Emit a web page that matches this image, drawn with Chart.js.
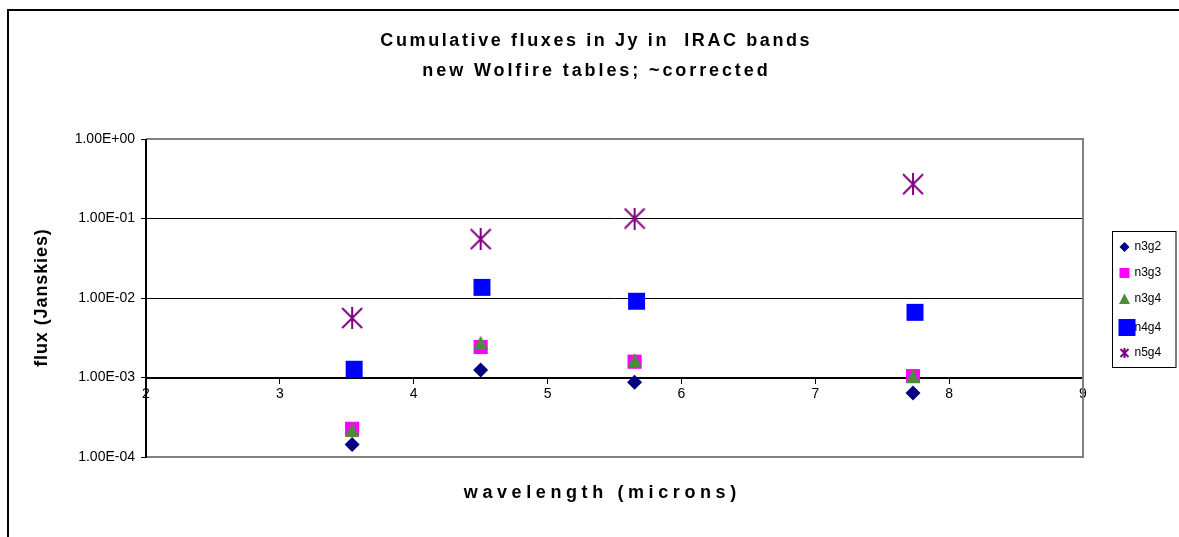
<!DOCTYPE html>
<html>
<head>
<meta charset="utf-8">
<title>Cumulative fluxes in Jy in IRAC bands</title>
<script src="https://cdn.jsdelivr.net/npm/chart.js@4.4.1/dist/chart.umd.min.js"></script>
<style>
  html, body { margin: 0; padding: 0; background: #ffffff; }
  canvas { display: block; }
</style>
</head>
<body>
<canvas id="chart" width="1179" height="537"></canvas>
<script>
// Band centres (microns) and cumulative fluxes (Jy) per model
const wavelengths = [3.54, 4.50, 5.65, 7.73];
const wavelengthsN4g4 = [3.555, 4.51, 5.665, 7.745];
const seriesNames = ['n3g2', 'n3g3', 'n3g4', 'n4g4', 'n5g4'];
const n3g2 = [1.44e-4, 1.24e-3, 8.7e-4, 6.4e-4];
const n3g3 = [2.26e-4, 2.42e-3, 1.58e-3, 1.04e-3];
const n3g4 = [2.2e-4, 2.75e-3, 1.66e-3, 1.05e-3];
const n4g4 = [1.27e-3, 1.36e-2, 9.1e-3, 6.6e-3];
const n5g4 = [5.6e-3, 5.5e-2, 1.0e-1, 2.7e-1];

const xTickValues = [2, 3, 4, 5, 6, 7, 8, 9];
const yTickValues = [1e-4, 1e-3, 1e-2, 1e-1, 1];
const yTickLabels = ['1.00E-04', '1.00E-03', '1.00E-02', '1.00E-01', '1.00E+00'];

const titleLines = ['Cumulative fluxes in Jy in  IRAC bands', 'new Wolfire tables; ~corrected'];
const xTitle = 'wavelength (microns)';
const yTitle = 'flux (Janskies)';

const FONT = '"Liberation Sans", Arial, Helvetica, sans-serif';

// Custom marker shapes
function makeStar(size, color, lw) {
  const c = document.createElement('canvas');
  c.width = size; c.height = size;
  const g = c.getContext('2d');
  g.strokeStyle = color; g.lineWidth = lw;
  g.beginPath();
  g.moveTo(1, 1); g.lineTo(size - 1, size - 1);
  g.moveTo(size - 1, 1); g.lineTo(1, size - 1);
  g.moveTo(size / 2, 0); g.lineTo(size / 2, size);
  g.stroke();
  return c;
}
function makeTriangle(w, h, color) {
  const c = document.createElement('canvas');
  c.width = w; c.height = h;
  const g = c.getContext('2d');
  g.fillStyle = color;
  g.beginPath();
  g.moveTo(w / 2, 0); g.lineTo(w, h); g.lineTo(0, h); g.closePath();
  g.fill();
  return c;
}

const colors = {
  n3g2: '#000080',
  n3g3: '#ff00ff',
  n3g4: '#4e8a3e',
  n4g4: '#0000ff',
  n5g4: '#800080'
};

const starBig = makeStar(22, colors.n5g4, 2);
const triBig = makeTriangle(14, 14, colors.n3g4);

function pts(xs, ys) { return xs.map((x, i) => ({ x: x, y: ys[i] })); }

const datasets = [
  { label: 'n3g2', data: pts(wavelengths, n3g2), pointStyle: 'rectRot', pointRadius: 7.5,
    backgroundColor: colors.n3g2, borderColor: colors.n3g2, borderWidth: 0, order: 4 },
  { label: 'n3g3', data: pts(wavelengths, n3g3), pointStyle: 'rect', pointRadius: 10,
    backgroundColor: colors.n3g3, borderColor: colors.n3g3, borderWidth: 0, order: 3 },
  { label: 'n3g4', data: pts(wavelengths, n3g4), pointStyle: triBig, pointRadius: 7,
    backgroundColor: colors.n3g4, borderColor: colors.n3g4, borderWidth: 0, order: 2 },
  { label: 'n4g4', data: pts(wavelengthsN4g4, n4g4), pointStyle: 'rect', pointRadius: 12,
    backgroundColor: colors.n4g4, borderColor: colors.n4g4, borderWidth: 0, order: 1 },
  { label: 'n5g4', data: pts(wavelengths, n5g4), pointStyle: starBig, pointRadius: 11,
    backgroundColor: colors.n5g4, borderColor: colors.n5g4, borderWidth: 0, order: 0 }
];

function spacedText(ctx, text, x, y, spacing) {
  ctx.letterSpacing = spacing + 'px';
  // letter spacing adds trailing space after the last glyph; compensate when centring
  const shift = ctx.textAlign === 'center' ? spacing / 2 : 0;
  ctx.fillText(text, x + shift, y);
  ctx.letterSpacing = '0px';
}

const decorations = {
  id: 'decorations',
  beforeDraw(chart) {
    const ctx = chart.ctx;
    ctx.save();
    ctx.fillStyle = '#ffffff';
    ctx.fillRect(0, 0, chart.width, chart.height);
    // outer frame
    ctx.strokeStyle = '#000000';
    ctx.lineWidth = 2;
    ctx.strokeRect(8, 10, chart.width + 20, chart.height + 20);
    ctx.restore();
  },
  afterDatasetsDraw(chart) {
    const ctx = chart.ctx;
    const a = chart.chartArea;
    ctx.save();
    // plot area border (top, right, bottom)
    ctx.strokeStyle = '#808080';
    ctx.lineWidth = 2;
    ctx.beginPath();
    ctx.moveTo(a.left, a.top);
    ctx.lineTo(a.right, a.top);
    ctx.lineTo(a.right, a.bottom);
    ctx.lineTo(a.left, a.bottom);
    ctx.stroke();
    // y axis line
    ctx.strokeStyle = '#000000';
    ctx.lineWidth = 2;
    ctx.beginPath();
    ctx.moveTo(a.left, a.top);
    ctx.lineTo(a.left, a.bottom + 1);
    ctx.stroke();

    // titles
    ctx.fillStyle = '#000000';
    ctx.textAlign = 'center';
    ctx.textBaseline = 'middle';
    ctx.font = 'bold 18px ' + FONT;
    spacedText(ctx, titleLines[0], 595, 41, 2.6);
    spacedText(ctx, titleLines[1], 595, 71, 2.9);
    spacedText(ctx, xTitle, 600, 493, 4.6);
    ctx.save();
    ctx.translate(42, 298);
    ctx.rotate(-Math.PI / 2);
    spacedText(ctx, yTitle, 0, 0, 0.9);
    ctx.restore();

    // legend
    const lx = 1112.5, ly = 231.5, lw = 63.5, lh = 136;
    ctx.strokeStyle = '#000000';
    ctx.lineWidth = 1;
    ctx.strokeRect(lx, ly, lw, lh);
    const rows = [247, 273, 299, 327.5, 353];
    const mx = 1124.5;
    ctx.font = '12px ' + FONT;
    ctx.textAlign = 'left';
    ctx.textBaseline = 'middle';
    seriesNames.forEach((name, i) => {
      const y = rows[i];
      ctx.fillStyle = colors[name];
      if (name === 'n3g2') {
        ctx.beginPath();
        ctx.moveTo(mx, y - 5); ctx.lineTo(mx + 5, y); ctx.lineTo(mx, y + 5); ctx.lineTo(mx - 5, y);
        ctx.closePath(); ctx.fill();
      } else if (name === 'n3g3') {
        ctx.fillRect(mx - 5, y - 5, 10, 10);
      } else if (name === 'n3g4') {
        ctx.beginPath();
        ctx.moveTo(mx, y - 5.5); ctx.lineTo(mx + 5.5, y + 5); ctx.lineTo(mx - 5.5, y + 5);
        ctx.closePath(); ctx.fill();
      } else if (name === 'n4g4') {
        ctx.fillRect(mx - 6, y - 8.5, 17, 17);
      } else {
        ctx.strokeStyle = colors[name];
        ctx.lineWidth = 2;
        ctx.beginPath();
        ctx.moveTo(mx - 4, y - 4); ctx.lineTo(mx + 4, y + 4);
        ctx.moveTo(mx + 4, y - 4); ctx.lineTo(mx - 4, y + 4);
        ctx.moveTo(mx, y - 5); ctx.lineTo(mx, y + 5);
        ctx.stroke();
      }
      ctx.fillStyle = '#000000';
      ctx.fillText(name, 1134.5, y);
    });
    ctx.restore();
  }
};

Chart.defaults.font.family = FONT;
Chart.defaults.color = '#000000';

new Chart(document.getElementById('chart'), {
  type: 'scatter',
  data: { datasets: datasets },
  options: {
    responsive: false,
    animation: false,
    devicePixelRatio: 1,
    layout: { padding: { left: 0, top: 139, right: 96, bottom: 80 } },
    plugins: {
      legend: { display: false },
      title: { display: false },
      tooltip: { enabled: false }
    },
    scales: {
      x: {
        type: 'linear',
        min: 2,
        max: 9,
        position: { y: 0.001 },
        afterBuildTicks(scale) { scale.ticks = xTickValues.map(v => ({ value: v })); },
        ticks: { font: { size: 14 }, padding: 3, color: '#000000', maxRotation: 0 },
        grid: { drawOnChartArea: false, drawTicks: true, tickLength: 5, tickColor: '#000000', color: '#000000' },
        border: { display: true, color: '#000000', width: 2 }
      },
      y: {
        type: 'logarithmic',
        min: 1e-4,
        max: 1,
        afterBuildTicks(scale) { scale.ticks = yTickValues.map(v => ({ value: v, major: true })); },
        afterFit(scale) { scale.width = 146; },
        ticks: {
          font: { size: 14 },
          padding: 6,
          color: '#000000',
          callback(value) {
            const i = yTickValues.findIndex(v => Math.abs(Math.log10(v) - Math.log10(value)) < 1e-6);
            return i >= 0 ? yTickLabels[i] : '';
          }
        },
        grid: {
          drawTicks: true,
          tickLength: 5,
          tickColor: '#000000',
          lineWidth: 1,
          color(c) {
            const v = c.tick && c.tick.value;
            if (v === 1 || v === 1e-4) return 'rgba(0,0,0,0)';
            return '#000000';
          }
        },
        border: { display: false }
      }
    }
  },
  plugins: [decorations]
});
</script>
</body>
</html>
